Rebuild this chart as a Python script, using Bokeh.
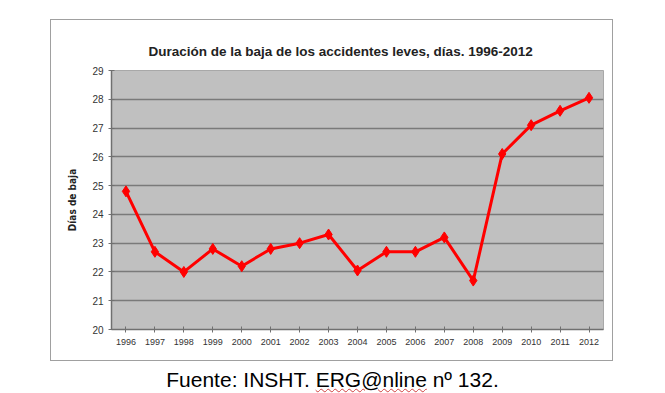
from bokeh.plotting import figure
from bokeh.models import ColumnDataSource, FixedTicker, Range1d, FactorRange, Div
from bokeh.layouts import column
from bokeh.embed import file_html
from bokeh.resources import INLINE

years = ["1996", "1997", "1998", "1999", "2000", "2001", "2002", "2003", "2004",
         "2005", "2006", "2007", "2008", "2009", "2010", "2011", "2012"]
dias = [24.8, 22.7, 22.0, 22.8, 22.2, 22.8, 23.0, 23.3, 22.05,
        22.7, 22.7, 23.2, 21.7, 26.1, 27.1, 27.6, 28.05]
y_ticks = [20, 21, 22, 23, 24, 25, 26, 27, 28, 29]

title_text = "Duración de la baja de los accidentes leves, días. 1996-2012"
ylabel_text = "Días de baja"
caption_before = "Fuente: INSHT. "
caption_marked = "ERG@nline"
caption_after = " nº 132."

src = ColumnDataSource(dict(x=years, y=dias))

p = figure(width=561, height=340, output_backend="svg", toolbar_location=None,
           x_range=FactorRange(*years, range_padding=0), y_range=Range1d(20, 29),
           min_border_left=60, min_border_right=9, min_border_top=50, min_border_bottom=31,
           title=title_text)
p.margin = (20, 0, 0, 51)
p.styles = {"outline": "1.5px solid #a0a0a0"}
p.background_fill_color = "#c0c0c0"
p.border_fill_color = "white"
p.outline_line_color = "#a8a8a8"
p.outline_line_width = 1

p.title.align = "left"
p.title.offset = 37
p.title.standoff = 24
p.title.text_font = "Liberation Sans"
p.title.text_font_style = "bold"
p.title.text_font_size = "13.5px"
p.title.text_color = "#222222"

p.xgrid.grid_line_color = None
p.ygrid.grid_line_color = "#7a7a7a"
p.ygrid.grid_line_width = 1.6
p.yaxis.ticker = FixedTicker(ticks=y_ticks)

for ax in (p.xaxis[0], p.yaxis[0]):
    ax.axis_line_color = "#707070"
    ax.axis_line_width = 1.5
    ax.major_tick_line_color = "#707070"
    ax.major_tick_in = 3
    ax.major_tick_out = 3
    ax.minor_tick_line_color = None
    ax.major_label_text_font = "Liberation Sans"
    ax.major_label_text_font_size = "9px"
    ax.major_label_text_color = "#333333"
p.yaxis.major_label_text_font_size = "10px"
p.yaxis.major_label_standoff = 5
p.xaxis.major_label_standoff = 6

p.yaxis.axis_label = ylabel_text
p.yaxis.axis_label_text_font = "DejaVu Sans Condensed"
p.yaxis.axis_label_text_font_style = "bold"
p.yaxis.axis_label_text_font_size = "10px"
p.yaxis.axis_label_text_color = "#222222"
p.yaxis.axis_label_standoff = 11

p.line("x", "y", source=src, line_color="#ff0000", line_width=3)
p.scatter("x", "y", source=src, marker="diamond", size=11, fill_color="#ff0000",
          line_color="#ff0000")

caption = Div(
    text=(caption_before
          + '<span style="text-decoration: underline wavy #d04040; text-decoration-thickness: 1px;">'
          + caption_marked + "</span>" + caption_after),
    width=665, height=33, margin=(8, 0, 0, 0),
    styles={"font-family": "Arial, 'Liberation Sans', sans-serif", "font-size": "21px",
            "text-align": "center", "color": "#000000", "width": "665px",
            "line-height": "24px"})

layout = column(p, caption, spacing=0)
layout.margin = 0
open("out.html", "w").write(file_html(layout, INLINE))
